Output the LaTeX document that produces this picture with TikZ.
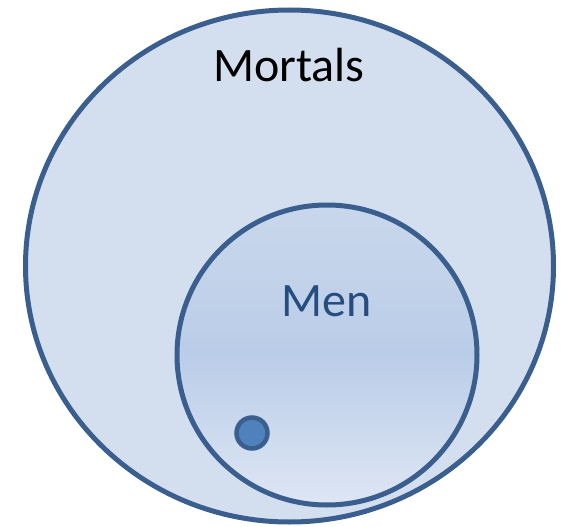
\documentclass[tikz,border=0pt]{standalone}
\usepackage{fontspec}
\setmainfont{Carlito}
\usetikzlibrary{shapes.geometric}
\definecolor{setline}{HTML}{3A5F8E}
\definecolor{mortalsfill}{HTML}{D3DFEE}
\definecolor{mentop}{HTML}{C9D7EB}
\definecolor{menmid}{HTML}{BACDE8}
\definecolor{menbottom}{HTML}{DEE6F4}
\definecolor{dotfill}{HTML}{4F81BD}
\definecolor{mentext}{HTML}{254D80}
\begin{document}
\begin{tikzpicture}[x=1pt, y=-1pt,
                    every node/.style={inner sep=0pt},
                    set/.style={draw=setline, line width=5pt},
                    label/.style={anchor=base, font=\fontsize{48}{52}\selectfont}
                    ]
                    \useasboundingbox (0,0) rectangle (563,527);
                    \node[set, ellipse, fill=mortalsfill, minimum width=528pt, minimum height=512pt] (mortals) at (289.5,266) {};
                    \node[set, circle, minimum size=300pt, top color=mentop, bottom color=menbottom, middle color=menmid] (men) at (327,355) {};
                    \node[set, circle, line width=4.5pt, fill=dotfill, minimum size=31pt] (socrates) at (252,433) {};

                    \node[label] (mortalstext) at (289,82) {Mortals};
                    \node[label, text=mentext] (mentext) at (327,316) {Men};
                \end{tikzpicture}
\end{document}
